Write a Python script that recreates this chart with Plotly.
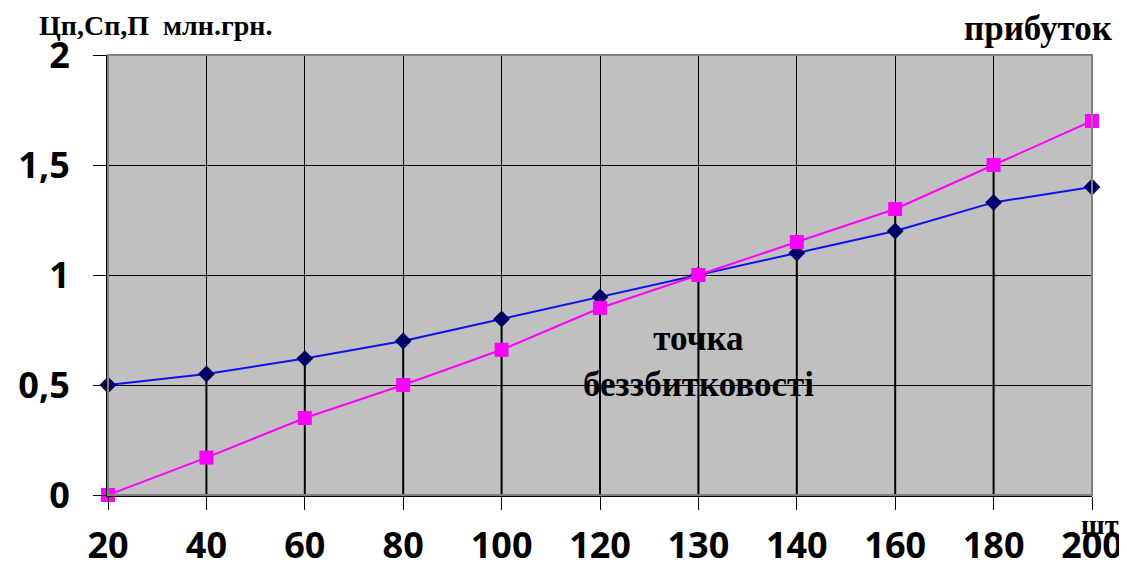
import plotly.graph_objects as go

categories = ["20", "40", "60", "80", "100", "120", "130", "140", "160", "180", "200"]
costs = [0.5, 0.55, 0.62, 0.70, 0.80, 0.90, 1.00, 1.10, 1.20, 1.33, 1.40]
revenue = [0.0, 0.17, 0.35, 0.50, 0.66, 0.85, 1.00, 1.15, 1.30, 1.50, 1.70]
y_ticks = [0, 0.5, 1, 1.5, 2]
y_ticktext = ["0", "0,5", "1", "1,5", "2"]

# drop lines from the higher point down to zero
drop_x, drop_y = [], []
for c, a, b in zip(categories, costs, revenue):
    drop_x += [c, c, None]
    drop_y += [max(a, b), 0, None]

fig = go.Figure()
fig.add_trace(go.Scatter(x=drop_x, y=drop_y, mode="lines", cliponaxis=False,
                         line=dict(color="black", width=2), hoverinfo="skip", showlegend=False))
fig.add_trace(go.Scatter(x=categories, y=costs, mode="lines+markers", cliponaxis=False,
                         line=dict(color="#1010ee", width=2),
                         marker=dict(symbol="diamond", size=13, color="#000066"),
                         showlegend=False))
fig.add_trace(go.Scatter(x=categories, y=revenue, mode="lines+markers", cliponaxis=False,
                         line=dict(color="#ff00ff", width=2),
                         marker=dict(symbol="square", size=14, color="#ff00ff"),
                         showlegend=False))

tickfont = dict(family="Open Sans", size=36, color="black", weight="bold")
fig.update_layout(
    width=1119, height=562,
    margin=dict(l=100, r=35, t=47, b=75),
    paper_bgcolor="white", plot_bgcolor="#c0c0c0",
    xaxis=dict(type="category", range=[0, 10], showgrid=True, gridcolor="black", gridwidth=1,
               showline=True, linecolor="black", linewidth=2, automargin=False,
               ticks="outside", ticklen=13, tickcolor="black", tickwidth=1,
               ticklabelstandoff=5, tickfont=tickfont, zeroline=False),
    yaxis=dict(range=[0, 2], tickvals=y_ticks, ticktext=y_ticktext, showgrid=True,
               gridcolor="black", gridwidth=1, showline=True, linecolor="black", linewidth=2,
               ticks="outside", ticklen=13, tickcolor="black", tickwidth=1, automargin=False,
               ticklabelstandoff=16, tickfont=tickfont, zeroline=False),
    shapes=[dict(type="rect", xref="paper", yref="paper", x0=0, x1=1, y0=0, y1=1,
                 line=dict(color="#808080", width=2), layer="above")],
    annotations=[
        dict(text="<b>Цп,Сп,П  млн.грн.</b>", xref="paper", yref="paper", x=-0.071, y=1.066,
             xanchor="left", yanchor="middle", showarrow=False, borderpad=0,
             font=dict(family="Liberation Serif", size=28, color="black")),
        dict(text="<b>прибуток</b>", xref="paper", yref="paper", x=1.023, y=1.061,
             xanchor="right", yanchor="middle", showarrow=False,
             font=dict(family="Liberation Serif", size=35, color="black")),
        dict(text="<b>шт</b>", xref="paper", yref="paper", x=1.029, y=-0.068,
             xanchor="right", yanchor="middle", showarrow=False,
             font=dict(family="Liberation Serif", size=28, color="black")),
        dict(text="<b>точка<br>беззбитковості</b>", x=6, y=0.605, xref="x", yref="y",
             showarrow=False, font=dict(family="Liberation Serif", size=35, color="black")),
    ],
)
fig.write_html("out.html")
